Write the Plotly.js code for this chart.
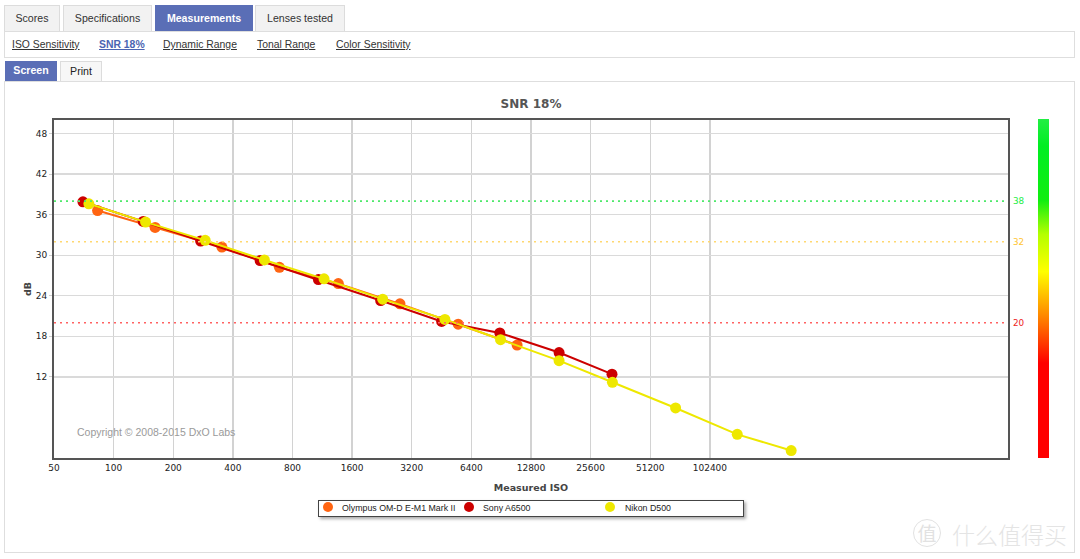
<!DOCTYPE html>
<html>
<head>
<meta charset="utf-8">
<script src="https://cdn.plot.ly/plotly-3.0.1.min.js"></script>
<style>
  html, body { margin:0; padding:0; width:1080px; height:559px; overflow:hidden; background:#fff; }
  body { position:relative; font-family:"Liberation Sans", Arial, sans-serif; }
  .abs { position:absolute; box-sizing:border-box; }
  .tab { position:absolute; box-sizing:border-box; top:5px; height:26px; background:#f2f2f2; border:1px solid #dcdcdc; border-bottom:none;
         font-size:10.6px; color:#333; text-align:center; line-height:24px; }
  .tab.sel { background:#5a6eb6; color:#fff; font-weight:bold; border-color:#5a6eb6; }
  .link { position:absolute; top:39px; font-size:10.4px; color:#333; text-decoration:underline; white-space:nowrap; }
  .link.sel { color:#4b64b2; font-weight:bold; }
  .btn { position:absolute; box-sizing:border-box; top:61px; height:20px; font-size:10.6px; text-align:center; line-height:19px; }
  #plot { position:absolute; left:0; top:0; width:1080px; height:559px; }
  .leg { position:absolute; font-size:8.8px; color:#222; white-space:nowrap; top:501px; line-height:14px; }
  .dot { position:absolute; width:10px; height:10px; border-radius:50%; top:502px; }
</style>
</head>
<body>
<!-- tabs row -->
<div class="tab" style="left:4px;width:56px;">Scores</div>
<div class="tab" style="left:63px;width:89px;">Specifications</div>
<div class="tab sel" style="left:155px;width:98px;">Measurements</div>
<div class="tab" style="left:255px;width:90px;">Lenses tested</div>
<!-- sub row -->
<div class="abs" style="left:4px;top:31px;width:1071px;height:27px;border:1px solid #dedede;"></div>
<span class="link" style="left:12px;">ISO Sensitivity</span>
<span class="link sel" style="left:99px;">SNR 18%</span>
<span class="link" style="left:163px;">Dynamic Range</span>
<span class="link" style="left:257px;">Tonal Range</span>
<span class="link" style="left:336px;">Color Sensitivity</span>
<!-- screen/print -->
<div class="btn" style="left:5px;width:52px;background:#5a6eb6;color:#fff;font-weight:bold;">Screen</div>
<div class="btn" style="left:60px;width:42px;background:#f7f7f7;color:#222;border:1px solid #dcdcdc;border-bottom:none;">Print</div>
<!-- chart container -->
<div class="abs" style="left:4px;top:81px;width:1071px;height:472px;border:1px solid #dedede;"></div>
<!-- colour bar -->
<div class="abs" style="left:1038px;top:119px;width:11px;height:339px;background:linear-gradient(to top,#ff0000 0%,#ff0000 28%,#ff8800 42%,#ffff00 55%,#b4ff00 66%,#11ee11 76%,#00ee22 92%,#22ee44 100%);"></div>
<!-- legend -->
<div class="abs" style="left:318px;top:500px;width:426px;height:17px;border:1px solid #444;background:#fff;box-shadow:2px 2px 3px #aaa;"></div>
<div id="legend"></div>
<!-- watermark -->
<div class="abs" style="left:913px;top:519px;width:28px;height:28px;border:1.5px solid #e2e2e2;border-radius:50%;font-family:'Noto Sans CJK SC';font-size:19px;color:#e2e2e2;text-align:center;line-height:26px;">值</div>
<div class="abs" style="left:952px;top:517px;font-family:'Noto Sans CJK SC';font-size:23px;color:#e4e4e4;white-space:nowrap;font-weight:300;">什么值得买</div>

<div id="plot"></div>
<script>
// ---- data ----
const seriesNames = ['Olympus OM-D E-M1 Mark II', 'Sony A6500', 'Nikon D500'];
const seriesColors = ['#ff6411', '#cc0000', '#eee800'];

const olympusISO = [83, 162, 352, 687, 1363, 2790, 5490, 10890];
const olympusSNR = [36.6, 34.1, 31.2, 28.2, 25.8, 22.8, 19.8, 16.7];

const sonyISO = [70, 141, 275, 549, 1081, 2230, 4529, 8906, 17741, 32816];
const sonySNR = [37.9, 35.0, 32.1, 29.2, 26.4, 23.3, 20.2, 18.5, 15.6, 12.4];

const nikonISO = [75, 145, 290, 577, 1154, 2283, 4705, 8984, 17741, 32975, 68745, 140760, 263500];
const nikonSNR = [37.6, 34.9, 32.2, 29.3, 26.5, 23.5, 20.5, 17.5, 14.4, 11.2, 7.4, 3.5, 1.1];

const thresholdValues = [38, 32, 20];
const thresholdLineColors = ['#4ee86a', '#ffd870', '#ff6262'];
const thresholdTextColors = ['#22ee44', '#ffc430', '#ee2222'];

const xTickVals = [50, 100, 200, 400, 800, 1600, 3200, 6400, 12800, 25600, 51200, 102400];
const xTickText = ['50', '100', '200', '400', '800', '1600', '3200', '6400', '12800', '25600', '51200', '102400'];
const yTickVals = [12, 18, 24, 30, 36, 42, 48];
const xRange = [50, 3276800];
const yRange = [0, 50];

// ---- traces ----
const xs = [olympusISO, sonyISO, nikonISO];
const ys = [olympusSNR, sonySNR, nikonSNR];
const traces = xs.map((x, i) => ({
  type: 'scatter', mode: 'lines+markers', name: seriesNames[i],
  x: x, y: ys[i],
  line: { color: seriesColors[i], width: 2 },
  marker: { color: seriesColors[i], size: 11 },
  showlegend: false, hoverinfo: 'skip'
}));

// ---- html legend built from the series arrays ----
const legendPos = [[323, 342], [464, 483], [605, 625]];
const legDiv = document.getElementById('legend');
seriesNames.forEach((n, i) => {
  const d = document.createElement('div');
  d.className = 'dot';
  d.style.left = legendPos[i][0] + 'px';
  d.style.background = seriesColors[i];
  legDiv.appendChild(d);
  const t = document.createElement('div');
  t.className = 'leg';
  t.style.left = legendPos[i][1] + 'px';
  t.textContent = n;
  legDiv.appendChild(t);
});

const shapes = thresholdValues.map((v, i) => ({
  type: 'line', xref: 'x domain', x0: 0, x1: 1, yref: 'y', y0: v, y1: v,
  line: { color: thresholdLineColors[i], width: 1.6, dash: '2px,4px' }, layer: 'above'
}));
const annotations = thresholdValues.map((v, i) => ({
  xref: 'x domain', x: 1, xanchor: 'left', xshift: 3, yref: 'y', y: v, yanchor: 'middle',
  text: String(v), showarrow: false, font: { family: 'DejaVu Sans', size: 8.8, color: thresholdTextColors[i] }
}));
annotations.push({
  xref: 'x domain', x: 0.022, xanchor: 'left', yref: 'y', y: 3.85, yanchor: 'middle',
  text: 'Copyright © 2008-2015 DxO Labs', showarrow: false,
  font: { family: 'Liberation Sans, Arial', size: 10.5, color: '#9a9a9a' }
});

const layout = {
  width: 1080, height: 559,
  margin: { l: 54, r: 72, t: 120, b: 101, pad: 0 },
  paper_bgcolor: 'rgba(0,0,0,0)', plot_bgcolor: '#ffffff',
  font: { family: 'DejaVu Sans', size: 9, color: '#222' },
  showlegend: false,
  title: { text: '<b>SNR 18%</b>', font: { family: 'DejaVu Sans', size: 12, color: '#555' },
           xref: 'paper', x: 0.5, xanchor: 'center', yref: 'container', y: 1 - 104 / 559, yanchor: 'middle' },
  xaxis: {
    type: 'log', range: [Math.log10(xRange[0]), Math.log10(xRange[1])],
    tickmode: 'array', tickvals: xTickVals, ticktext: xTickText,
    showgrid: true, gridcolor: '#d2d2d2', gridwidth: 1.3, zeroline: false,
    showline: true, mirror: true, linecolor: '#555', linewidth: 2, ticks: '',
    tickfont: { family: 'DejaVu Sans', size: 9, color: '#222' },
    title: { text: '<b>Measured ISO</b>', font: { family: 'DejaVu Sans', size: 9.5, color: '#444' }, standoff: 13 },
    automargin: false, fixedrange: true
  },
  yaxis: {
    range: yRange, tickmode: 'array', tickvals: yTickVals,
    showgrid: true, gridcolor: '#dadada', gridwidth: 1.3, zeroline: false,
    showline: true, mirror: true, linecolor: '#555', linewidth: 2,
    ticks: 'outside', ticklen: 3, tickcolor: '#cfcfcf',
    tickfont: { family: 'DejaVu Sans', size: 9, color: '#222' },
    title: { text: '<b>dB</b>', font: { family: 'DejaVu Sans', size: 9.5, color: '#444' }, standoff: 2 },
    automargin: false, fixedrange: true
  },
  shapes: shapes,
  annotations: annotations
};

Plotly.newPlot('plot', traces, layout, { displayModeBar: false, staticPlot: true });
</script>
</body>
</html>
